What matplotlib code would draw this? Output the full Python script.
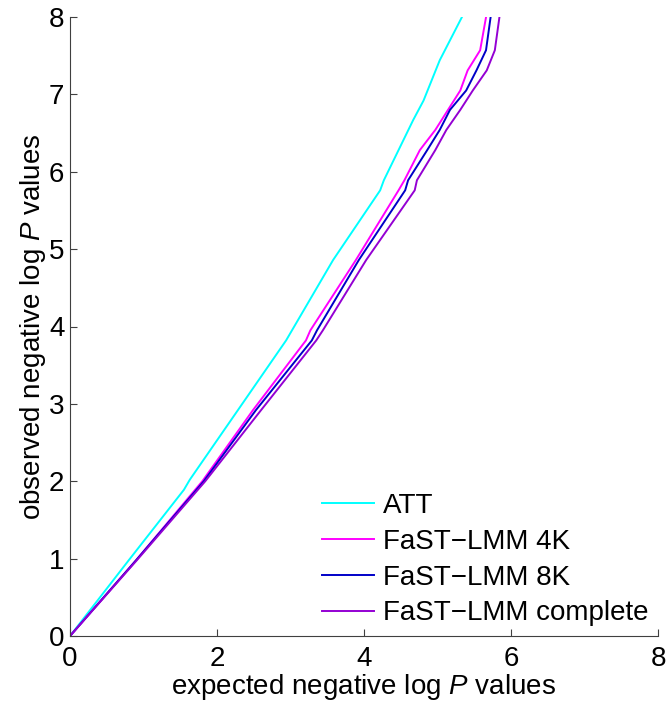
import matplotlib
matplotlib.use("Agg")
import matplotlib.pyplot as plt

plt.rcParams['font.family'] = ['Liberation Sans', 'DejaVu Sans']
plt.rcParams['mathtext.fontset'] = 'custom'
plt.rcParams['mathtext.rm'] = 'Liberation Sans'
plt.rcParams['mathtext.it'] = 'Liberation Sans:italic'

labels = ["ATT", "FaST\u2212LMM 4K", "FaST\u2212LMM 8K", "FaST\u2212LMM complete"]
colors = ["#00FFFF", "#FF00FF", "#0000C8", "#9400D3"]

att_x = [0, 0.80, 1.55, 1.63, 2.94, 3.02, 3.58, 4.22, 4.27, 4.67, 4.81, 5.03, 5.36]
att_y = [0, 0.98, 1.89, 2.02, 3.82, 3.95, 4.86, 5.76, 5.89, 6.67, 6.92, 7.44, 8.05]

k4_x = [0, 0.90, 1.80, 2.49, 3.21, 3.27, 3.89, 4.47, 4.55, 4.76, 4.97, 5.31, 5.41, 5.58, 5.67]
k4_y = [0, 0.98, 2.00, 2.92, 3.82, 3.95, 4.86, 5.76, 5.89, 6.28, 6.54, 7.05, 7.31, 7.57, 8.05]

k8_x = [0, 0.90, 1.82, 2.53, 3.29, 3.36, 3.93, 4.56, 4.60, 4.86, 5.03, 5.17, 5.39, 5.53, 5.66, 5.73]
k8_y = [0, 0.98, 2.00, 2.92, 3.82, 3.95, 4.86, 5.76, 5.89, 6.28, 6.54, 6.80, 7.05, 7.31, 7.57, 8.05]

full_x = [0, 0.91, 1.84, 2.60, 3.35, 3.44, 4.03, 4.69, 4.72, 4.97, 5.12, 5.31, 5.48, 5.67, 5.78, 5.85]
full_y = [0, 0.98, 2.00, 2.92, 3.82, 3.95, 4.86, 5.76, 5.89, 6.28, 6.54, 6.80, 7.05, 7.31, 7.57, 8.05]

xticks = [0, 2, 4, 6, 8]
yticks = [0, 1, 2, 3, 4, 5, 6, 7, 8]

fig = plt.figure(figsize=(6.68, 7.06), dpi=100)
ax = fig.add_axes([70/668, 70/706, 588/668, 619/706])

series = [(att_x, att_y), (k4_x, k4_y), (k8_x, k8_y), (full_x, full_y)]
for (xs, ys), lab, c in zip(series, labels, colors):
    ax.plot(xs, ys, color=c, lw=1.4, label=lab)

ax.set_xlim(0, 8)
ax.set_ylim(0, 8)
ax.set_xticks(xticks)
ax.set_yticks(yticks)
ax.spines['top'].set_visible(False)
ax.spines['right'].set_visible(False)
for s in ['left', 'bottom']:
    ax.spines[s].set_color('#404040')
    ax.spines[s].set_linewidth(0.8)
ax.tick_params(direction='in', length=5, width=0.8, color='#404040', labelsize=20)
ax.tick_params(axis='x', pad=7)
ax.tick_params(axis='y', pad=4)
ax.set_xlabel(r'expected negative log $\mathit{P}$ values', fontsize=20, labelpad=0)
ax.set_ylabel(r'observed negative log $\mathit{P}$ values', fontsize=20, labelpad=1)

leg = ax.legend(loc='lower right', frameon=False, fontsize=20, handlelength=1.9,
                handletextpad=0.3, labelspacing=0.35, borderaxespad=0.15,
                borderpad=0.2)

fig.savefig("out.png", dpi=100)
